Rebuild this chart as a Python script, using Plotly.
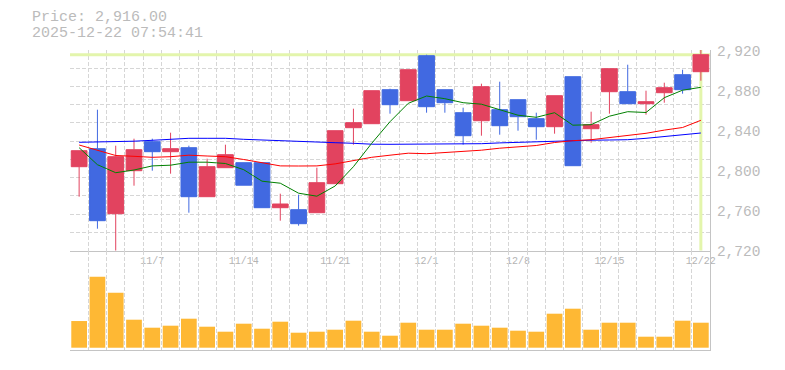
import plotly.graph_objects as go

# ---------------- data ----------------
dates = ["2025-10-31", "2025-11-04", "2025-11-05", "2025-11-06", "2025-11-07",
         "2025-11-10", "2025-11-11", "2025-11-12", "2025-11-13", "2025-11-14",
         "2025-11-17", "2025-11-18", "2025-11-19", "2025-11-20", "2025-11-21",
         "2025-11-25", "2025-11-26", "2025-11-27", "2025-11-28", "2025-12-01",
         "2025-12-02", "2025-12-03", "2025-12-04", "2025-12-05", "2025-12-08",
         "2025-12-09", "2025-12-10", "2025-12-11", "2025-12-12", "2025-12-15",
         "2025-12-16", "2025-12-17", "2025-12-18", "2025-12-19", "2025-12-22"]

opens = [2804, 2822, 2757, 2800, 2829, 2819, 2823, 2774, 2803, 2808,
         2808, 2763, 2761, 2758, 2787, 2843, 2847, 2881, 2870, 2915,
         2881, 2858, 2850, 2861, 2871, 2852, 2844, 2894, 2842, 2879,
         2879, 2867, 2878, 2896, 2899]
highs = [2820, 2861, 2825, 2832, 2832, 2838, 2825, 2812, 2826, 2808,
         2808, 2777, 2776, 2803, 2840, 2862, 2880, 2882, 2901, 2916,
         2881, 2863, 2887, 2889, 2871, 2858, 2875, 2894, 2859, 2902,
         2906, 2880, 2888, 2901, 2921]
lows = [2774, 2742, 2720, 2785, 2800, 2797, 2758, 2774, 2803, 2785.5,
        2763, 2750, 2745, 2758, 2787, 2826, 2847, 2857, 2870, 2858,
        2858, 2826, 2835, 2836, 2840, 2831, 2837, 2805, 2828, 2857,
        2867, 2856, 2868, 2877, 2890]
closes = [2820, 2750, 2814, 2821, 2819, 2822, 2774, 2804, 2816, 2785.5,
          2763, 2766.7, 2747, 2788, 2840, 2848, 2880, 2866, 2901, 2864,
          2868, 2835, 2884, 2845, 2854, 2844, 2875, 2805, 2846, 2902,
          2867, 2869, 2883, 2881, 2916]

ma_short = [2823, 2806, 2798, 2800.7, 2804.8, 2805.5, 2808.5, 2808.5, 2807.2, 2801,
            2789.5, 2787.5, 2777.5, 2774.5, 2784.7, 2804, 2827.4, 2849, 2867.4, 2874.7,
            2872, 2868, 2866.5, 2861, 2855.5, 2853.4, 2858, 2845.5, 2846, 2854.5,
            2859, 2858.2, 2873, 2880.5, 2883.4]
ma_mid = [2825.7, 2820.5, 2815.2, 2814.4, 2813.4, 2814, 2815.5, 2814.7, 2814, 2811.2,
          2808, 2804.8, 2804.7, 2804.8, 2806.8, 2810.2, 2813.4, 2815.5, 2817.5, 2817,
          2818, 2819, 2820.5, 2822.5, 2824, 2825.2, 2828.2, 2830, 2831, 2833,
          2835.4, 2837.4, 2840.6, 2843.2, 2850.4]
ma_long = [2828.4, 2828.6, 2829.4, 2829.5, 2830.4, 2831.4, 2832.4, 2832.4, 2832.4, 2831.4,
           2830.6, 2830, 2829.2, 2828.5, 2828, 2827.4, 2826.5, 2826.4, 2826.4, 2826.4,
           2826.4, 2826.4, 2827, 2827.8, 2828.4, 2829.4, 2829.7, 2830, 2830.5, 2830.7,
           2831, 2832.4, 2834, 2835.5, 2837.7]

volumes = [800, 2130, 1650, 840, 600, 660, 870, 630, 480, 720,
           570, 780, 450, 480, 540, 810, 480, 360, 750, 540,
           540, 720, 660, 600, 510, 480, 1020, 1170, 540, 750,
           750, 330, 330, 810, 750]

tick_dates = ["2025-11-07", "2025-11-14", "2025-11-21", "2025-12-01",
              "2025-12-08", "2025-12-15", "2025-12-22"]
tick_labels = ["11/7", "11/14", "11/21", "12/1", "12/8", "12/15", "12/22"]

price_ticks = [2720, 2760, 2800, 2840, 2880, 2920]
price_tick_labels = ["2,720", "2,760", "2,800", "2,840", "2,880", "2,920"]

last_price = 2916.00
timestamp = "2025-12-22 07:54:41"

# ---------------- styling ----------------
UP = "#e2435f"
DOWN = "#4169e1"
VOL = "#feb834"
GRID = "#d6d6d6"
AXIS = "#c4c4c4"
TXT = "#bbbbbb"
HILITE = "#e3f5ac"
FONT = "Liberation Mono, DejaVu Sans Mono, monospace"

x = list(range(len(dates)))
tick_pos = [dates.index(d) for d in tick_dates]
n = len(dates)

p_lo, p_hi = 2720, 2920.7
v_lo, v_hi = -69, 2910
split = 0.331

fig = go.Figure()

fig.add_trace(go.Scatter(x=x, y=ma_long, mode="lines", line=dict(color="#0000ff", width=1),
                         xaxis="x", yaxis="y", showlegend=False, hoverinfo="skip"))
fig.add_trace(go.Scatter(x=x, y=ma_mid, mode="lines", line=dict(color="#ff0000", width=1),
                         xaxis="x", yaxis="y", showlegend=False, hoverinfo="skip"))
fig.add_trace(go.Scatter(x=x, y=ma_short, mode="lines", line=dict(color="#008000", width=1),
                         xaxis="x", yaxis="y", showlegend=False, hoverinfo="skip"))

fig.add_trace(go.Candlestick(
    x=x, open=opens, high=highs, low=lows, close=closes,
    increasing=dict(line=dict(color=UP, width=1), fillcolor=UP),
    decreasing=dict(line=dict(color=DOWN, width=1), fillcolor=DOWN),
    whiskerwidth=0, xaxis="x", yaxis="y", showlegend=False))

fig.add_trace(go.Bar(x=x, y=volumes, marker=dict(color=VOL, line=dict(width=0)),
                     xaxis="x2", yaxis="y2", showlegend=False))

# current price highlight lines
fig.add_shape(type="line", xref="x", yref="y", x0=-0.5, x1=n - 0.5,
              y0=last_price, y1=last_price, line=dict(color=HILITE, width=3), layer="between")
fig.add_shape(type="line", xref="x", yref="y", x0=x[-1], x1=x[-1],
              y0=p_lo, y1=p_hi, line=dict(color=HILITE, width=3), layer="between")

minor_x = dict(tick0=-0.5, dtick=1, showgrid=True, gridcolor=GRID, griddash="4px,2px",
               gridwidth=1, ticklen=0)

# page body has an 8px default margin, so the figure is sized to fit the window
fig.update_layout(
    width=777, height=362,
    margin=dict(l=62, r=75, t=42, b=20),
    paper_bgcolor="white", plot_bgcolor="white",
    boxgap=0.14, boxgroupgap=0, bargap=0.14,
    font=dict(family=FONT, color=TXT),
    xaxis=dict(domain=[0, 1], anchor="y", range=[-0.5, n - 0.5],
               tickmode="array", tickvals=tick_pos, ticktext=tick_labels,
               tickfont=dict(size=10, color="#b4b4b4", family=FONT),
               showgrid=False, zeroline=False, ticks="",
               showline=True, linecolor=AXIS, linewidth=1,
               minor=minor_x, rangeslider=dict(visible=False)),
    xaxis2=dict(domain=[0, 1], anchor="y2", range=[-0.5, n - 0.5], matches="x",
                showticklabels=False, showgrid=False, zeroline=False, ticks="",
                showline=True, linecolor=AXIS, linewidth=1, minor=minor_x),
    yaxis=dict(domain=[split, 1], anchor="x", side="right", range=[p_lo, p_hi],
               tickmode="array", tickvals=price_ticks, ticktext=price_tick_labels,
               tickfont=dict(size=14.5, color=TXT, family=FONT),
               ticklabelstandoff=3,
               showgrid=False, zeroline=False, ticks="",
               showline=True, linecolor=AXIS, linewidth=1,
               minor=dict(tick0=p_lo, dtick=(p_hi - p_lo) / 11, showgrid=True,
                          gridcolor=GRID, griddash="4px,2px", gridwidth=1, ticklen=0)),
    yaxis2=dict(domain=[0, split], anchor="x2", side="right", range=[v_lo, v_hi],
                showticklabels=False, showgrid=False, zeroline=False, ticks="",
                showline=True, linecolor=AXIS, linewidth=1),
    annotations=[
        dict(text="Price: {:,.2f}".format(last_price), xref="paper", yref="paper",
             x=-40 / 640, y=1 + 32 / 300, xanchor="left", yanchor="middle",
             showarrow=False, font=dict(size=15, color=TXT, family=FONT)),
        dict(text=timestamp, xref="paper", yref="paper",
             x=-40 / 640, y=1 + 17 / 300, xanchor="left", yanchor="middle",
             showarrow=False, font=dict(size=15, color=TXT, family=FONT)),
    ],
)

fig.write_html("out.html")
